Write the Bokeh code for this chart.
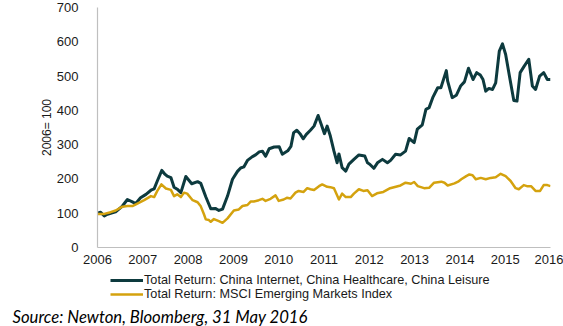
from bokeh.plotting import figure
from bokeh.layouts import column
from bokeh.models import Range1d, FixedTicker, Legend, LegendItem, Title
from bokeh.embed import file_html
from bokeh.resources import INLINE

# Tick labels
years = [2006, 2007, 2008, 2009, 2010, 2011, 2012, 2013, 2014, 2015, 2016]
y_ticks = [0, 100, 200, 300, 400, 500, 600, 700]

# Series 1: Total Return China Internet/Healthcare/Leisure (decimal year, index)
china_x = [2006.00, 2006.07, 2006.15, 2006.22, 2006.29, 2006.40, 2006.55, 2006.66, 2006.77, 2006.84,
           2006.95, 2007.07, 2007.18, 2007.25, 2007.32, 2007.42, 2007.48, 2007.54, 2007.62, 2007.69,
           2007.76, 2007.84, 2007.95, 2008.08, 2008.21, 2008.28, 2008.39, 2008.50, 2008.60, 2008.68,
           2008.76, 2008.87, 2008.98, 2009.09, 2009.16, 2009.23, 2009.31, 2009.42, 2009.49, 2009.57,
           2009.64, 2009.71, 2009.79, 2009.90, 2010.01, 2010.08, 2010.20, 2010.27, 2010.33, 2010.40,
           2010.48, 2010.54, 2010.61, 2010.70, 2010.78, 2010.87, 2010.94, 2011.01, 2011.07, 2011.14,
           2011.22, 2011.29, 2011.33, 2011.40, 2011.48, 2011.55, 2011.66, 2011.77, 2011.90, 2011.96,
           2012.01, 2012.10, 2012.18, 2012.29, 2012.40, 2012.47, 2012.58, 2012.69, 2012.80, 2012.88,
           2012.99, 2013.06, 2013.17, 2013.25, 2013.32, 2013.40, 2013.51, 2013.58, 2013.70, 2013.73,
           2013.83, 2013.92, 2014.02, 2014.10, 2014.19, 2014.29, 2014.37, 2014.45, 2014.51, 2014.57,
           2014.64, 2014.72, 2014.79, 2014.87, 2014.94, 2015.01, 2015.10, 2015.19, 2015.26, 2015.33,
           2015.42, 2015.52, 2015.60, 2015.67, 2015.76, 2015.85, 2015.93, 2016.00]
china_v = [100, 103, 92, 97, 100, 104, 121, 140, 133, 128,
           145, 155, 167, 171, 194, 225, 215, 208, 204, 176,
           170, 160, 207, 186, 192, 187, 148, 113, 114, 108,
           112, 150, 199, 222, 232, 235, 254, 265, 270, 279,
           281, 266, 288, 293, 294, 272, 282, 295, 335, 342,
           330, 317, 330, 342, 354, 385, 359, 332, 354, 325,
           281, 247, 273, 233, 223, 243, 257, 270, 267, 247,
           243, 231, 247, 257, 247, 254, 272, 270, 281, 318,
           306, 345, 358, 403, 408, 437, 466, 466, 516, 485,
           437, 444, 472, 483, 523, 490, 510, 503, 490, 456,
           464, 461, 480, 573, 594, 563, 495, 429, 427, 510,
           529, 549, 471, 461, 500, 510, 490, 490]
china_x = china_x[:len(china_v)]

# Series 2: Total Return MSCI Emerging Markets Index
msci_x = [2006.00, 2006.15, 2006.29, 2006.40, 2006.55, 2006.66, 2006.77, 2006.88, 2007.03, 2007.18,
          2007.25, 2007.32, 2007.41, 2007.51, 2007.62, 2007.69, 2007.76, 2007.84, 2007.91, 2007.98,
          2008.10, 2008.21, 2008.28, 2008.35, 2008.39, 2008.46, 2008.50, 2008.57, 2008.68, 2008.76,
          2008.87, 2009.01, 2009.12, 2009.20, 2009.31, 2009.38, 2009.45, 2009.56, 2009.64, 2009.71,
          2009.82, 2009.93, 2010.00, 2010.11, 2010.18, 2010.26, 2010.37, 2010.44, 2010.55, 2010.63,
          2010.70, 2010.78, 2010.89, 2010.96, 2011.07, 2011.14, 2011.22, 2011.33, 2011.40, 2011.48,
          2011.59, 2011.66, 2011.77, 2011.87, 2011.96, 2012.06, 2012.17, 2012.31, 2012.46, 2012.69,
          2012.80, 2012.92, 2012.99, 2013.07, 2013.21, 2013.32, 2013.43, 2013.59, 2013.66, 2013.73,
          2013.88, 2013.96, 2014.03, 2014.14, 2014.21, 2014.28, 2014.35, 2014.46, 2014.57, 2014.68,
          2014.79, 2014.90, 2015.01, 2015.12, 2015.23, 2015.30, 2015.41, 2015.48, 2015.57, 2015.67,
          2015.77, 2015.85, 2015.93, 2016.00]
msci_v = [98, 98, 103, 108, 119, 121, 121, 128, 138, 150,
          147, 165, 184, 172, 168, 150, 155, 147, 160, 157,
          138, 132, 120, 97, 82, 80, 75, 83, 77, 72,
          85, 108, 111, 121, 124, 134, 134, 138, 142, 136,
          142, 152, 136, 140, 145, 143, 160, 165, 162, 173,
          170, 168, 179, 184, 177, 176, 173, 140, 157, 147,
          147, 157, 170, 165, 167, 150, 158, 162, 173, 181,
          189, 186, 191, 179, 173, 174, 189, 192, 189, 181,
          187, 192, 199, 208, 213, 211, 199, 203, 199, 203,
          205, 215, 208, 194, 173, 170, 182, 179, 179, 165,
          165, 182, 182, 179]
msci_x = msci_x[:len(msci_v)]

series_names = ["Total Return: China Internet, China Healthcare, China Leisure",
                "Total Return: MSCI Emerging Markets Index"]
source_text = "Source: Newton, Bloomberg, 31 May 2016"

DARK = "#0d3a3e"
GOLD = "#d4a20e"
AXIS_GREY = "#bfbfbf"

# ---- main chart ----
p = figure(width=563, height=270, output_backend="svg", toolbar_location=None,
           x_range=Range1d(2006, 2016), y_range=Range1d(0, 700),
           min_border_left=97, min_border_right=13, min_border_top=7, min_border_bottom=23)
p.outline_line_color = None
p.xgrid.visible = False
p.ygrid.visible = False
p.background_fill_color = "white"
p.border_fill_color = "white"

p.line(china_x, china_v, line_color=DARK, line_width=3, line_join="round")
p.line(msci_x, msci_v, line_color=GOLD, line_width=2.5, line_join="round")

for ax in (p.xaxis[0], p.yaxis[0]):
    ax.axis_line_color = AXIS_GREY
    ax.axis_line_width = 1.2
    ax.major_tick_line_color = None
    ax.minor_tick_line_color = None
    ax.major_label_text_font = "Liberation Sans"
    ax.major_label_text_font_size = "13px"
    ax.major_label_text_color = "#1a1a1a"

p.xaxis.ticker = FixedTicker(ticks=years)
p.xaxis.major_label_standoff = 1
p.yaxis.ticker = FixedTicker(ticks=y_ticks)
p.yaxis.major_label_standoff = 13
p.yaxis.axis_label = "2006= 100"
p.yaxis.axis_label_text_font = "Liberation Sans"
p.yaxis.axis_label_text_font_size = "12px"
p.yaxis.axis_label_text_font_style = "normal"
p.yaxis.axis_label_text_color = "#1a1a1a"
p.yaxis.axis_label_standoff = 0

# ---- legend + source strip (frame aligned with main chart) ----
q = figure(width=563, height=56, output_backend="svg", toolbar_location=None,
           x_range=Range1d(0, 1), y_range=Range1d(0, 1),
           min_border_left=97, min_border_right=13, min_border_top=0, min_border_bottom=0)
q.axis.visible = False
q.grid.visible = False
q.outline_line_color = None
q.background_fill_color = "white"
q.border_fill_color = "white"

nan = float("nan")
k1 = q.line(x=[nan], y=[nan], line_color=DARK, line_width=3)
k2 = q.line(x=[nan], y=[nan], line_color=GOLD, line_width=2.5)

legend = Legend(items=[LegendItem(label=series_names[0], renderers=[k1]),
                       LegendItem(label=series_names[1], renderers=[k2])],
                location=(13, 3), orientation="vertical",
                glyph_width=33, glyph_height=14, label_height=14, label_standoff=1,
                spacing=0, padding=0, margin=0,
                border_line_alpha=0, background_fill_alpha=0,
                label_text_font="Liberation Sans", label_text_font_size="12.7px",
                label_text_color="#1a1a1a")
q.add_layout(legend, "center")

q.add_layout(Title(text=source_text, align="left", offset=-85, standoff=0,
                   text_font="Lato", text_font_style="italic", text_font_size="16.7px",
                   text_color="#000000"), "below")

layout = column(p, q, spacing=0)
open("out.html", "w").write(file_html(layout, INLINE))
